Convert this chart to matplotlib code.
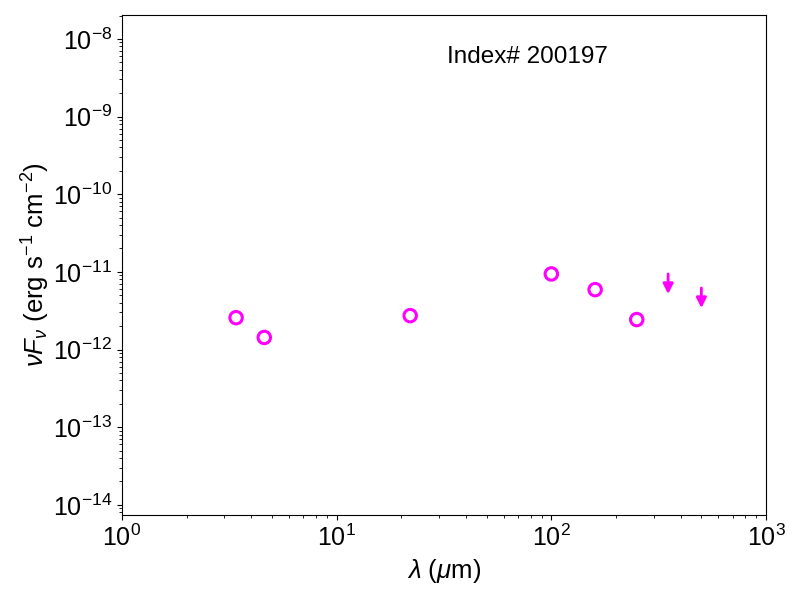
import matplotlib
matplotlib.use('Agg')
import matplotlib.pyplot as plt

plt.rcParams['font.family'] = ['Liberation Sans', 'DejaVu Sans']
plt.rcParams['mathtext.fontset'] = 'custom'
plt.rcParams['mathtext.rm'] = 'Liberation Sans'
plt.rcParams['mathtext.it'] = 'Liberation Sans:italic'
plt.rcParams['mathtext.bf'] = 'Liberation Sans:bold'

# detections (micron, erg/s/cm2)
wave = [3.4, 4.6, 22.0, 100.0, 160.0, 250.0]
flux = [2.57e-12, 1.43e-12, 2.73e-12, 9.4e-12, 5.9e-12, 2.43e-12]

# upper limits
wave_ul = [350.0, 500.0]
flux_ul = [9.4e-12, 6.2e-12]

SOURCE = 'Index# 200197'

fig = plt.figure(figsize=(8, 6), dpi=100)
ax = fig.add_axes([0.1525, 0.1417, 0.805, 0.8333])

ax.scatter(wave, flux, s=80, facecolors='none', edgecolors='magenta', linewidths=2.2, zorder=3)

for x, y in zip(wave_ul, flux_ul):
  ax.annotate('', xy=(x, y * 0.55), xytext=(x, y),
              arrowprops=dict(arrowstyle='-|>', color='magenta', lw=2.0,
                              mutation_scale=15, shrinkA=0, shrinkB=0))

ax.set_xscale('log')
ax.set_yscale('log')
ax.set_xlim(1, 1000)
ax.set_ylim(7.4e-15, 2.03e-8)

ax.set_xlabel(r'$\lambda$ ($\mu$m)', fontsize=18.5)
ax.set_ylabel(r'$\nu F_\nu$ (erg s$^{-1}$ cm$^{-2}$)', fontsize=18.5, labelpad=1)
ax.tick_params(axis='both', which='major', labelsize=18)

ax.text(0.629, 0.916, SOURCE, transform=ax.transAxes, ha='center', va='center', fontsize=17.5)

plt.savefig('out.png')
